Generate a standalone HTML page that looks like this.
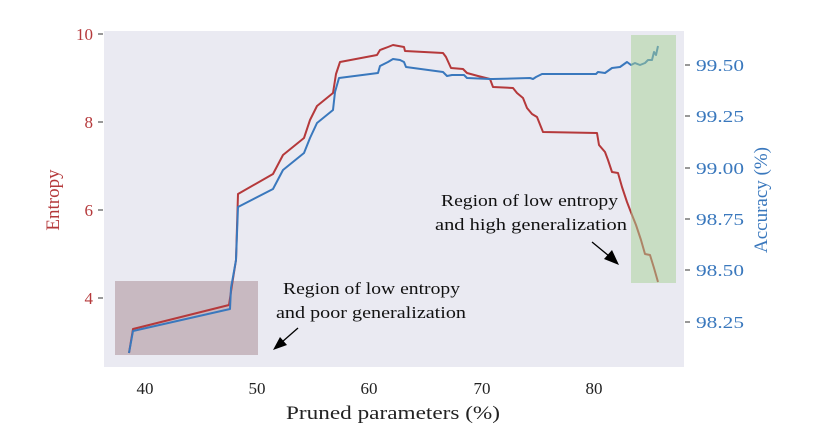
<!DOCTYPE html>
<html><head><meta charset="utf-8"><style>
html,body{margin:0;padding:0;background:#fff;}
svg{display:block;font-family:"Liberation Serif",serif;}
</style></head><body>
<svg width="818" height="440" viewBox="0 0 818 440" xmlns="http://www.w3.org/2000/svg">
<rect x="104" y="31" width="580" height="336" fill="#eaeaf2"/>
<rect x="115" y="281" width="143" height="74" fill="#c8b9c1"/>
<polyline fill="none" stroke="#b5393b" stroke-width="2" stroke-linejoin="round" points="129,353 133,329 229,305 232,285 236,260 238,194 273,174 283,155 304,138 310,120 317,106 333,93 336,74 340,62 377,55 380,50 388,47 393,45 404,47 405,51 443,53 446,57 451,68 463,69 467,73 478,76 490,79 493,87 513,88 517,93 523,98 527,108 532,114 537,117 543,132 597,133 599,145 605,152 608,160 612,172 618,173 622,187 627,202 632,215 636,225 641,240 645,254 650,255 654,268 658,282"/>
<polyline fill="none" stroke="#3a78bd" stroke-width="2" stroke-linejoin="round" points="129,353 133,331 230,309 231,288 236,260 238,207 273,189 283,170 304,153 310,138 317,123 333,110 335,92 339,78 378,73 380,66 388,62 393,59 400,60 404,62 406,67 443,72 447,76 452,75 464,75 467,78 490,79 493,79 530,78 533,79 536,77 542,74 596,74 598,72 605,73 612,68 620,67 627,62 631,65 635,63 640,65 645,63 648,60 652,60 654,52 656,55 658,46"/>
<rect x="631" y="35" width="45" height="248" fill="#a6cf94" fill-opacity="0.5"/>
<g stroke="#333" stroke-width="1">
<line x1="98" y1="34" x2="103" y2="34"/><line x1="98" y1="122" x2="103" y2="122"/><line x1="98" y1="210" x2="103" y2="210"/><line x1="98" y1="298" x2="103" y2="298"/>
<line x1="685" y1="65" x2="690" y2="65"/><line x1="685" y1="116" x2="690" y2="116"/><line x1="685" y1="168" x2="690" y2="168"/><line x1="685" y1="219" x2="690" y2="219"/><line x1="685" y1="270" x2="690" y2="270"/><line x1="685" y1="322" x2="690" y2="322"/>
</g>
<g fill="#b5393b" font-size="17" text-anchor="end">
<text x="93" y="40">10</text><text x="93" y="128">8</text><text x="93" y="216">6</text><text x="93" y="304">4</text>
</g>
<g fill="#3a78bd" font-size="17" text-anchor="start" lengthAdjust="spacingAndGlyphs">
<text x="696" y="71" textLength="48" lengthAdjust="spacingAndGlyphs">99.50</text><text x="696" y="122" textLength="48" lengthAdjust="spacingAndGlyphs">99.25</text><text x="696" y="174" textLength="48" lengthAdjust="spacingAndGlyphs">99.00</text><text x="696" y="225" textLength="48" lengthAdjust="spacingAndGlyphs">98.75</text><text x="696" y="276" textLength="48" lengthAdjust="spacingAndGlyphs">98.50</text><text x="696" y="328" textLength="48" lengthAdjust="spacingAndGlyphs">98.25</text>
</g>
<g fill="#222" font-size="17" text-anchor="middle">
<text x="145" y="394">40</text><text x="257" y="394">50</text><text x="369" y="394">60</text><text x="482" y="394">70</text><text x="594" y="394">80</text>
</g>
<text x="286" y="419" font-size="19" fill="#222" textLength="214" lengthAdjust="spacingAndGlyphs">Pruned parameters (%)</text>
<text transform="translate(59,200) rotate(-90)" fill="#b5393b" font-size="19" text-anchor="middle">Entropy</text>
<text transform="translate(767,200) rotate(-90)" fill="#3a78bd" font-size="19" text-anchor="middle">Accuracy (%)</text>
<g fill="#111" font-size="17">
<text x="283" y="294" textLength="177" lengthAdjust="spacingAndGlyphs">Region of low entropy</text>
<text x="276" y="318" textLength="190" lengthAdjust="spacingAndGlyphs">and poor generalization</text>
<text x="441" y="206" textLength="177" lengthAdjust="spacingAndGlyphs">Region of low entropy</text>
<text x="435" y="230" textLength="192" lengthAdjust="spacingAndGlyphs">and high generalization</text>
</g>
<line x1="298" y1="328" x2="282" y2="342" stroke="#000" stroke-width="1.3"/>
<polygon points="273,350 280,337 287,345" fill="#000"/>
<line x1="592" y1="242" x2="609" y2="256" stroke="#000" stroke-width="1.3"/>
<polygon points="619,265 604,259 612,250" fill="#000"/>
</svg>
</body></html>
